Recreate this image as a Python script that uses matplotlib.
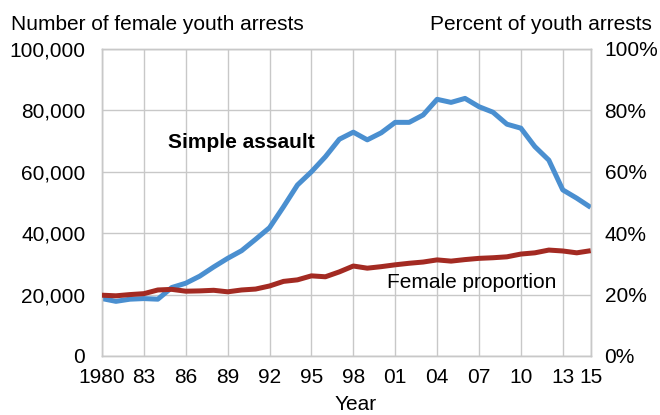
import numpy as np
import matplotlib
matplotlib.use('Agg')
import matplotlib.pyplot as plt

plt.rcParams['font.family'] = ['Liberation Sans', 'DejaVu Sans']

years = list(range(1980, 2016))

# simple assault arrests of female youth (count)
simple_assault = [18700, 17800, 18500, 18700, 18500, 22300, 23700, 26000, 29000, 31800,
                  34300, 38000, 41800, 48600, 55700, 60000, 64900, 70600, 72900, 70400,
                  72700, 76100, 76100, 78500, 83600, 82600, 83900, 81200, 79400, 75500,
                  74200, 68200, 63800, 54100, 51400, 48400]

# female share of youth simple assault arrests (%)
female_pct = [19.8, 19.6, 20.0, 20.3, 21.5, 21.7, 21.1, 21.2, 21.4, 20.9,
              21.5, 21.8, 22.8, 24.3, 24.8, 26.1, 25.8, 27.4, 29.3, 28.6,
              29.1, 29.7, 30.2, 30.6, 31.3, 30.9, 31.4, 31.8, 32.0, 32.3,
              33.2, 33.6, 34.5, 34.2, 33.6, 34.3]

tick_years = [1980, 1983, 1986, 1989, 1992, 1995, 1998, 2001, 2004, 2007, 2010, 2013, 2015]
tick_labels = ['1980', '83', '86', '89', '92', '95', '98', '01', '04', '07', '10', '13', '15']

grid_c = '#c8c8c8'

fig = plt.figure(figsize=(6.6, 4.15), dpi=100)
ax = fig.add_axes([0.1545, 0.1422, 0.7405, 0.7398])
ax2 = ax.twinx()

ax.plot(years, simple_assault, c='#4a8fd0', lw=3.6, solid_capstyle='butt', zorder=3)
ax2.plot(years, female_pct, c='#a32a22', lw=3.6, solid_capstyle='butt', zorder=3)

ax.set_xlim(1980, 2015)
ax.set_ylim(0, 100000)
ax2.set_ylim(0, 100)

ax.set_xticks(tick_years)
ax.set_xticklabels(tick_labels)
ax.set_yticks(range(0, 100001, 20000))
ax.set_yticklabels(['{:,}'.format(v) for v in range(0, 100001, 20000)])
ax2.set_yticks(range(0, 101, 20))
ax2.set_yticklabels(['{}%'.format(v) for v in range(0, 101, 20)])

ax.grid(True, color=grid_c, lw=1)
ax.set_axisbelow(True)
for a in (ax, ax2):
    for s in a.spines.values():
        s.set_color(grid_c)
        s.set_linewidth(1)
    a.tick_params(length=0, labelsize=15, colors='black')
ax.tick_params(axis='x', pad=9)
ax.tick_params(axis='y', pad=12)
ax2.tick_params(axis='y', pad=10)

ax.set_xlabel('Year', fontsize=15)
ax.xaxis.set_label_coords(0.518, -0.128)

fig.text(0.017, 0.928, 'Number of female youth arrests', fontsize=15, ha='left', va='baseline')
fig.text(0.988, 0.928, 'Percent of youth arrests', fontsize=15, ha='right', va='baseline')

ax.text(1984.7, 69500, 'Simple assault', fontsize=15, fontweight='bold', ha='left', va='center')
ax2.text(2000.4, 24, 'Female proportion', fontsize=15, ha='left', va='center')

fig.savefig('out.png', dpi=100)
